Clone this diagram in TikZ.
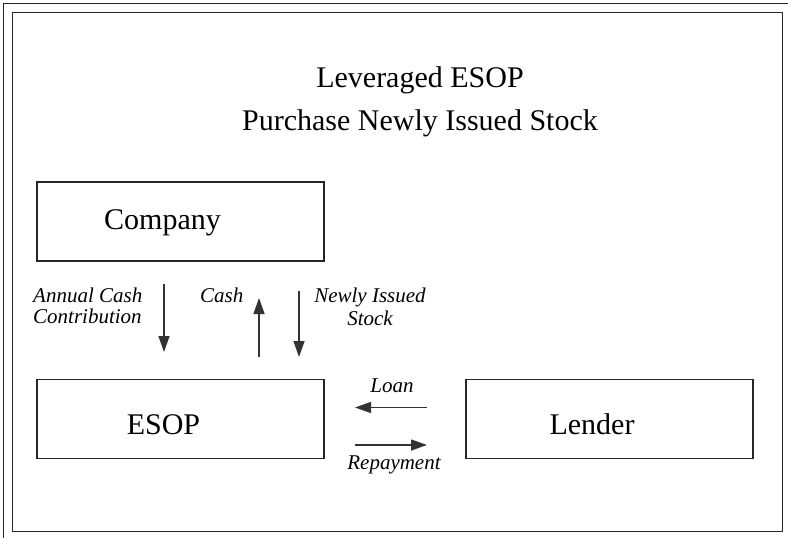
\documentclass[tikz,border=0pt]{standalone}
\usepackage{fontspec}
\setmainfont{Liberation Serif}
\usetikzlibrary{arrows.meta}
\begin{document}
\begin{tikzpicture}[x=1pt,y=-1pt,
  frame/.style={draw=black!85,line width=1.6pt},
  box/.style={draw=black!85,line width=1.3pt,minimum width=287pt,minimum height=79pt,inner sep=0pt},
  boxtxt/.style={font=\fontsize{30}{34}\selectfont,inner sep=0pt,anchor=base},
  flow/.style={draw=black!80,line width=1.3pt,-{Triangle[length=16pt,width=11pt]}},
  lbl/.style={font=\fontsize{21}{22}\selectfont\itshape,inner sep=0pt},
  ttl/.style={font=\fontsize{30}{34}\selectfont,inner sep=0pt,anchor=base}]
\useasboundingbox (0,0) rectangle (788,538);
\fill[white] (0,0) rectangle (788,538);
% frames
\coordinate (fa) at (3.5,538);
\coordinate (fb) at (3.5,3.5);
\coordinate (fc) at (788,3.5);
\draw[frame] (fa) -- (fb) -- (fc);
\coordinate (ia) at (12.5,12.5);
\coordinate (ib) at (782.5,531.5);
\draw[frame] (ia) rectangle (ib);
% title
\node[ttl] (title1) at (420,87) {Leveraged ESOP};
\node[ttl] (title2) at (420,130) {Purchase Newly Issued Stock};
% boxes
\node[box] (company) at (180.5,221.5) {};
\node[box] (esop) at (180.5,419) {};
\node[box] (lender) at (609.5,419) {};
\node[boxtxt] (companyt) at (162.5,229) {Company};
\node[boxtxt] (esopt) at (163.5,434) {ESOP};
\node[boxtxt] (lendert) at (592,434) {Lender};
% vertical arrows
\coordinate (a1s) at (164,284);
\coordinate (a1e) at (164,352);
\draw[flow] (a1s) -- (a1e);
\coordinate (a2s) at (259,357);
\coordinate (a2e) at (259,298);
\draw[flow] (a2s) -- (a2e);
\coordinate (a3s) at (299,291);
\coordinate (a3e) at (299,357);
\draw[flow] (a3s) -- (a3e);
% horizontal arrows
\coordinate (l1s) at (427,407.5);
\coordinate (l1e) at (355,407.5);
\draw[flow] (l1s) -- (l1e);
\coordinate (l2s) at (355,445);
\coordinate (l2e) at (427,445);
\draw[flow] (l2s) -- (l2e);
% labels
\node[lbl,anchor=base west] (acc1) at (33,302) {Annual Cash};
\node[lbl,anchor=base west] (acc2) at (33,323) {Contribution};
\node[lbl,anchor=base west] (cash) at (200,302) {Cash};
\node[lbl,anchor=base] (nis1) at (370,302) {Newly Issued};
\node[lbl,anchor=base] (nis2) at (370,325) {Stock};
\node[lbl,anchor=base] (loan) at (392,392.5) {Loan};
\node[lbl,anchor=base] (rep) at (394,469) {Repayment};
\end{tikzpicture}
\end{document}
